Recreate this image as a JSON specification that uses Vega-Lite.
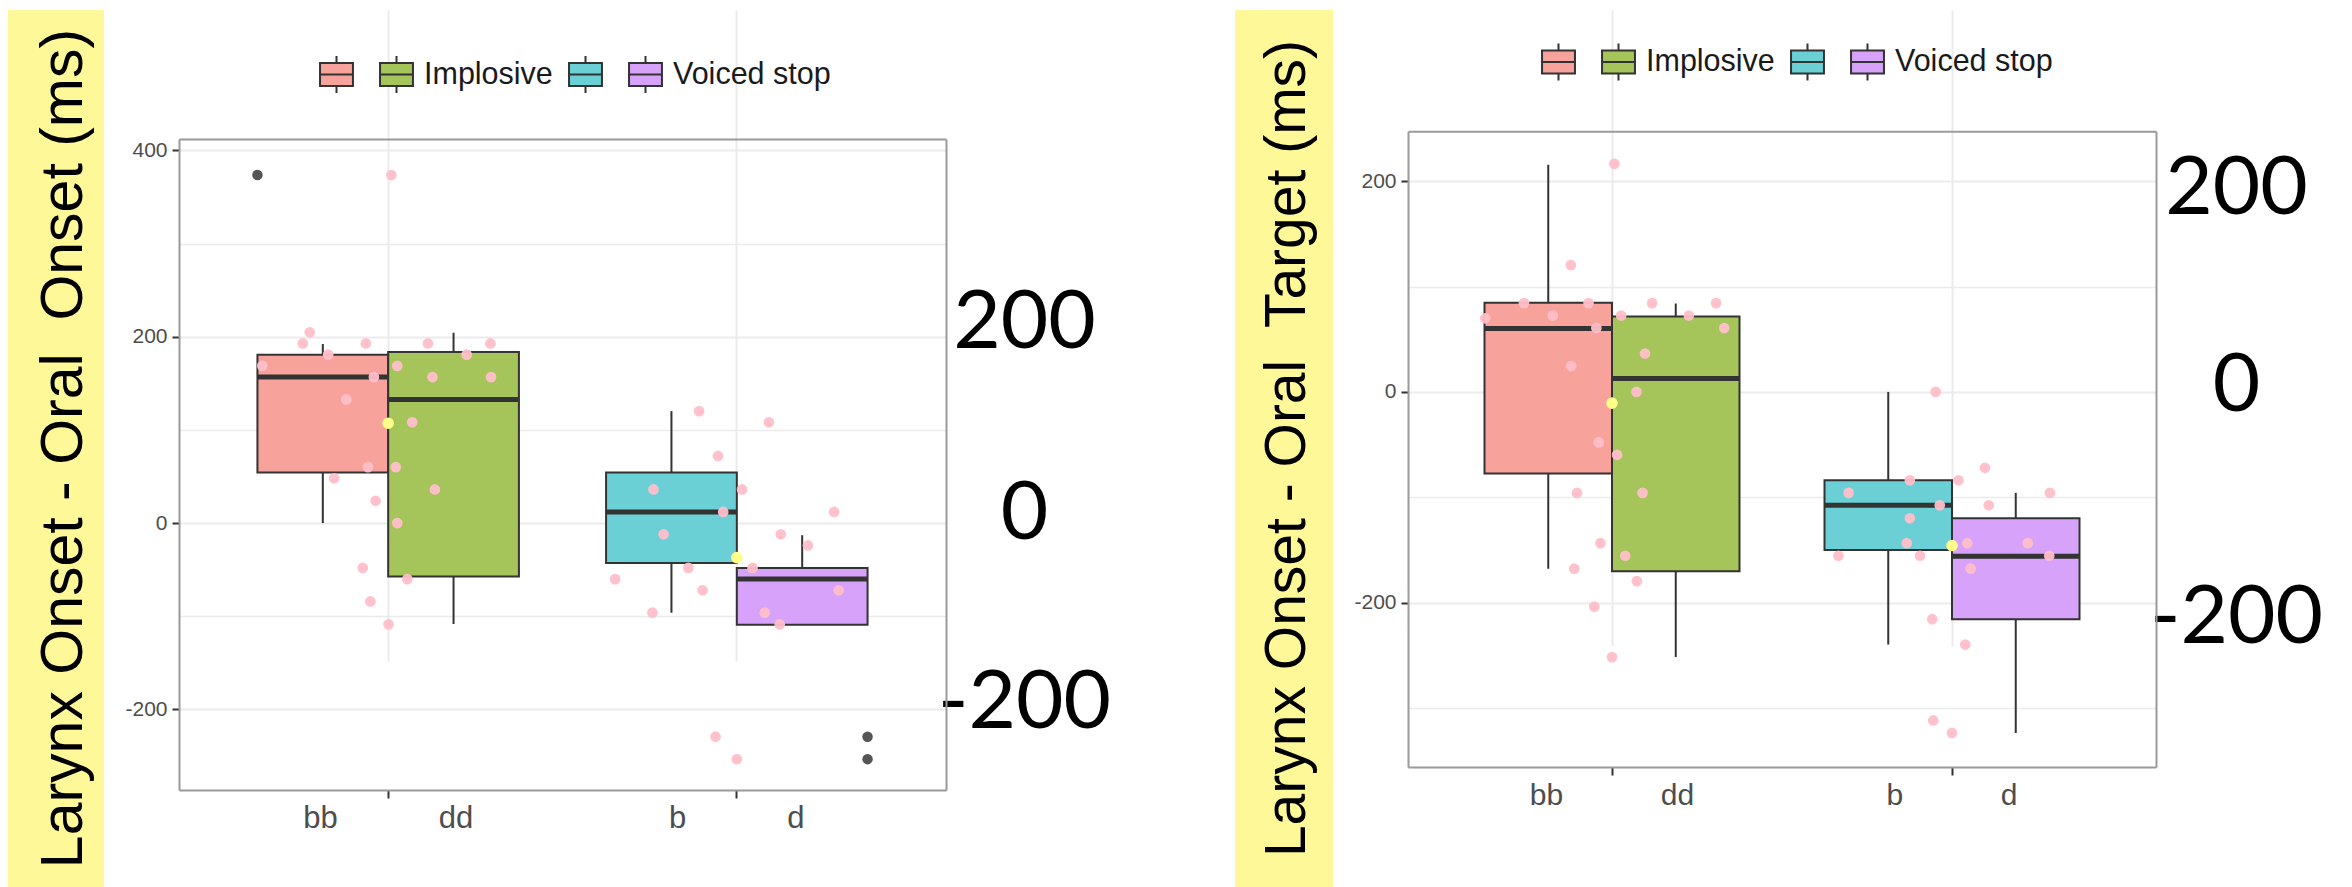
{
  "$schema": "https://vega.github.io/schema/vega-lite/v6.json",
  "padding": {"left": 8, "top": 10, "right": 10, "bottom": 0},
  "bounds": "flush",
  "spacing": 75,
  "config": {"view": {"stroke": null}, "font": "Liberation Sans"},
  "resolve": {"scale": {"color": "independent", "xOffset": "independent"}, "legend": {"color": "independent"}},
  "datasets": {
    "boxesA": [
      {"g": "Implosive", "place": "bilabial", "consonant": "bb", "lower": 0, "q1": 54.3, "median": 156.7, "q3": 180.8, "upper": 192.3},
      {"g": "Implosive", "place": "alveolar", "consonant": "dd", "lower": -108.2, "q1": -57.2, "median": 132.7, "q3": 183.7, "upper": 204.3},
      {"g": "Voiced stop", "place": "bilabial", "consonant": "b", "lower": -96.2, "q1": -42.8, "median": 12, "q3": 54.3, "upper": 120.2},
      {"g": "Voiced stop", "place": "alveolar", "consonant": "d", "lower": -109.1, "q1": -109.1, "median": -60.1, "q3": -48.1, "upper": -13}
    ],
    "outliersA": [
      {"g": "Implosive", "place": "bilabial", "v": 373.6},
      {"g": "Voiced stop", "place": "alveolar", "v": -229.3},
      {"g": "Voiced stop", "place": "alveolar", "v": -253.4}
    ],
    "meansA": [
      {"g": "Implosive", "v": 107.2},
      {"g": "Voiced stop", "v": -37}
    ],
    "pointsA": [
      {"g": "Implosive", "j": -0.225, "v": 204.8}, {"g": "Implosive", "j": -0.245, "v": 192.8}, {"g": "Implosive", "j": -0.064, "v": 192.8},
      {"g": "Implosive", "j": -0.172, "v": 180.8}, {"g": "Implosive", "j": -0.361, "v": 168.8}, {"g": "Implosive", "j": -0.041, "v": 156.7},
      {"g": "Implosive", "j": -0.12, "v": 132.7}, {"g": "Implosive", "j": -0.058, "v": 60.1}, {"g": "Implosive", "j": -0.155, "v": 48.1},
      {"g": "Implosive", "j": -0.036, "v": 24.0}, {"g": "Implosive", "j": -0.073, "v": -48.1}, {"g": "Implosive", "j": -0.051, "v": -84.1},
      {"g": "Implosive", "j": 0.001, "v": -108.7}, {"g": "Implosive", "j": 0.009, "v": 373.6}, {"g": "Implosive", "j": 0.114, "v": 192.8},
      {"g": "Implosive", "j": 0.026, "v": 168.8}, {"g": "Implosive", "j": 0.225, "v": 180.8}, {"g": "Implosive", "j": 0.293, "v": 192.8},
      {"g": "Implosive", "j": 0.127, "v": 156.7}, {"g": "Implosive", "j": 0.295, "v": 156.7}, {"g": "Implosive", "j": 0.069, "v": 108.2},
      {"g": "Implosive", "j": 0.022, "v": 60.1}, {"g": "Implosive", "j": 0.134, "v": 36.1}, {"g": "Implosive", "j": 0.026, "v": 0},
      {"g": "Implosive", "j": 0.055, "v": -60.1},
      {"g": "Voiced stop", "j": -0.108, "v": 120.2}, {"g": "Voiced stop", "j": -0.054, "v": 72.1}, {"g": "Voiced stop", "j": -0.239, "v": 36.1},
      {"g": "Voiced stop", "j": 0.015, "v": 36.1}, {"g": "Voiced stop", "j": -0.039, "v": 12.0}, {"g": "Voiced stop", "j": -0.21, "v": -12.0},
      {"g": "Voiced stop", "j": -0.139, "v": -48.1}, {"g": "Voiced stop", "j": -0.349, "v": -60.1}, {"g": "Voiced stop", "j": -0.098, "v": -72.1},
      {"g": "Voiced stop", "j": -0.242, "v": -96.2}, {"g": "Voiced stop", "j": 0.092, "v": 108.2}, {"g": "Voiced stop", "j": 0.279, "v": 12.0},
      {"g": "Voiced stop", "j": 0.126, "v": -12.0}, {"g": "Voiced stop", "j": 0.204, "v": -24.0}, {"g": "Voiced stop", "j": 0.045, "v": -48.1},
      {"g": "Voiced stop", "j": 0.292, "v": -72.1}, {"g": "Voiced stop", "j": 0.08, "v": -96.2}, {"g": "Voiced stop", "j": 0.123, "v": -108.7},
      {"g": "Voiced stop", "j": -0.061, "v": -229.3}, {"g": "Voiced stop", "j": 0, "v": -253.4}
    ],
    "boxesB": [
      {"g": "Implosive", "place": "bilabial", "consonant": "bb", "lower": -167.8, "q1": -77.5, "median": 60.2, "q3": 84.7, "upper": 215.7},
      {"g": "Implosive", "place": "alveolar", "consonant": "dd", "lower": -251.7, "q1": -170.3, "median": 12.7, "q3": 71.6, "upper": 83.9},
      {"g": "Voiced stop", "place": "bilabial", "consonant": "b", "lower": -239.8, "q1": -150, "median": -107.6, "q3": -83.9, "upper": 0},
      {"g": "Voiced stop", "place": "alveolar", "consonant": "d", "lower": -323.7, "q1": -215.7, "median": -155.9, "q3": -119.9, "upper": -95.8}
    ],
    "meansB": [
      {"g": "Implosive", "v": -10.6},
      {"g": "Voiced stop", "v": -145.8}
    ],
    "pointsB": [
      {"g": "Implosive", "j": -0.373, "v": 69.9}, {"g": "Implosive", "j": -0.259, "v": 84.3}, {"g": "Implosive", "j": -0.174, "v": 72.5},
      {"g": "Implosive", "j": -0.069, "v": 84.3}, {"g": "Implosive", "j": -0.046, "v": 60.6}, {"g": "Implosive", "j": -0.121, "v": 120.3},
      {"g": "Implosive", "j": -0.12, "v": 24.6}, {"g": "Implosive", "j": -0.039, "v": -47.9}, {"g": "Implosive", "j": -0.103, "v": -95.8},
      {"g": "Implosive", "j": -0.034, "v": -143.6}, {"g": "Implosive", "j": -0.111, "v": -167.8}, {"g": "Implosive", "j": -0.052, "v": -203.8},
      {"g": "Implosive", "j": 0, "v": -251.7}, {"g": "Implosive", "j": 0.007, "v": 216.5}, {"g": "Implosive", "j": 0.027, "v": 72.5},
      {"g": "Implosive", "j": 0.118, "v": 84.3}, {"g": "Implosive", "j": 0.226, "v": 72.5}, {"g": "Implosive", "j": 0.306, "v": 84.3},
      {"g": "Implosive", "j": 0.33, "v": 60.6}, {"g": "Implosive", "j": 0.097, "v": 36.4}, {"g": "Implosive", "j": 0.072, "v": 0},
      {"g": "Implosive", "j": 0.015, "v": -59.7}, {"g": "Implosive", "j": 0.09, "v": -95.8}, {"g": "Implosive", "j": 0.039, "v": -155.5},
      {"g": "Implosive", "j": 0.073, "v": -179.6},
      {"g": "Voiced stop", "j": -0.304, "v": -95.8}, {"g": "Voiced stop", "j": -0.334, "v": -155.5}, {"g": "Voiced stop", "j": -0.124, "v": -83.9},
      {"g": "Voiced stop", "j": -0.036, "v": -107.6}, {"g": "Voiced stop", "j": -0.124, "v": -119.9}, {"g": "Voiced stop", "j": -0.133, "v": -143.6},
      {"g": "Voiced stop", "j": -0.094, "v": -155.5}, {"g": "Voiced stop", "j": -0.048, "v": 0}, {"g": "Voiced stop", "j": -0.058, "v": -215.7},
      {"g": "Voiced stop", "j": -0.055, "v": -311.8}, {"g": "Voiced stop", "j": 0, "v": -323.7}, {"g": "Voiced stop", "j": 0.019, "v": -83.9},
      {"g": "Voiced stop", "j": 0.097, "v": -72.0}, {"g": "Voiced stop", "j": 0.108, "v": -107.6}, {"g": "Voiced stop", "j": 0.045, "v": -143.6},
      {"g": "Voiced stop", "j": 0.223, "v": -143.6}, {"g": "Voiced stop", "j": 0.288, "v": -95.8}, {"g": "Voiced stop", "j": 0.286, "v": -155.5},
      {"g": "Voiced stop", "j": 0.055, "v": -167.8}, {"g": "Voiced stop", "j": 0.039, "v": -239.8}
    ]
  },
  "hconcat": [
    {
      "width": 96, "height": 877,
      "view": {"fill": "#FFF899", "stroke": null},
      "data": {"values": [{"t": "Larynx Onset - Oral \u00a0Onset (ms)"}]},
      "mark": {"type": "text", "angle": 270, "font": "Liberation Sans", "fontSize": 59, "baseline": "middle", "align": "center", "dy": 8, "color": "#000000"},
      "encoding": {"text": {"field": "t"}}
    },
    {
      "width": 767, "height": 780,
      "resolve": {"axis": {"x": "independent", "y": "independent"}},
      "layer": [
        {
          "resolve": {"scale": {"xOffset": "independent"}},
          "data": {"name": "boxesA"},
          "encoding": {
            "x": {"field": "g", "type": "nominal",
              "scale": {"domain": ["Implosive", "Voiced stop"], "paddingInner": 0.25, "paddingOuter": 0.225},
              "axis": {"orient": "bottom", "title": null, "labelAngle": 0, "bandPosition": 0.5,
                "labelExpr": "datum.value == 'Implosive' ? 'bb\u00a0\u00a0\u00a0\u00a0\u00a0\u00a0\u00a0\u00a0\u00a0\u00a0\u00a0\u2009dd' : 'b\u00a0\u00a0\u00a0\u00a0\u00a0\u00a0\u00a0\u00a0\u00a0\u00a0\u00a0\u2009d'",
                "labelFont": "Liberation Sans", "labelFontSize": 31, "labelColor": "#4d4d4d", "labelPadding": 5, "labelLimit": 500,
                "tickColor": "#333333", "tickWidth": 2, "tickSize": 8,
                "domainColor": "#9a9a9a", "domainWidth": 2,
                "grid": true, "gridColor": "#ebebeb", "gridWidth": 2}}
          },
          "layer": [
            {
              "mark": {"type": "rule", "stroke": "#333333", "strokeWidth": 2},
              "encoding": {
                "xOffset": {"field": "place", "type": "nominal", "scale": {"domain": ["bilabial", "alveolar"], "paddingInner": 0, "paddingOuter": 0}},
                "y": {"field": "lower", "type": "quantitative",
                  "scale": {"domain": [-286.5, 412.3], "range": [780, 129], "nice": false, "zero": false},
                  "axis": {"orient": "left", "title": null, "values": [-200, -100, 0, 100, 200, 300, 400],
                    "labelExpr": "datum.value % 200 == 0 ? '' + datum.value : ''",
                    "labelFont": "Liberation Sans", "labelFontSize": 21, "labelColor": "#4d4d4d", "labelPadding": 5, "labelOverlap": false,
                    "tickColor": "#333333", "tickWidth": 2, "tickSize": 7,
                    "tickOpacity": {"condition": {"test": "datum.value % 200 != 0", "value": 0}, "value": 1},
                    "domainColor": "#9a9a9a", "domainWidth": 2,
                    "grid": true, "gridColor": "#ebebeb",
                    "gridWidth": {"condition": {"test": "datum.value % 200 != 0", "value": 1.3}, "value": 2}}},
                "y2": {"field": "upper"}
              }
            },
            {
              "mark": {"type": "bar", "stroke": "#333333", "strokeWidth": 2, "opacity": 1},
              "encoding": {
                "xOffset": {"field": "place", "type": "nominal", "scale": {"domain": ["bilabial", "alveolar"], "paddingInner": 0, "paddingOuter": 0}},
                "y": {"field": "q1", "type": "quantitative", "scale": {"domain": [-286.5, 412.3], "range": [780, 129], "nice": false, "zero": false}},
                "y2": {"field": "q3"},
                "color": {"field": "consonant", "type": "nominal",
                  "scale": {"domain": ["bb", "dd", "b", "d"], "range": ["#F7A39C", "#A5C45A", "#6BD0D5", "#D7A2F9"]},
                  "legend": {"orient": "none", "legendX": 138, "legendY": 45, "direction": "horizontal", "title": null, "padding": 0,
                    "labelExpr": "datum.value == 'dd' ? 'Implosive' : datum.value == 'd' ? 'Voiced stop' : ''",
                    "symbolType": "M-0.89,-0.62H0.89V0.62H-0.89Z M-0.89,0H0.89 M0,-0.62V-1 M0,0.62V1",
                    "symbolSize": 1369, "symbolStrokeColor": "#333333", "symbolStrokeWidth": 2, "symbolOpacity": 1,
                    "labelFont": "Liberation Sans", "labelFontSize": 30.5, "labelColor": "#1a1a1a", "labelOffset": 8, "columnPadding": 12, "labelLimit": 400}}
              }
            },
            {
              "mark": {"type": "bar", "stroke": "#333333", "strokeWidth": 5, "fillOpacity": 0},
              "encoding": {
                "xOffset": {"field": "place", "type": "nominal", "scale": {"domain": ["bilabial", "alveolar"], "paddingInner": 0, "paddingOuter": 0}},
                "y": {"field": "median", "type": "quantitative", "scale": {"domain": [-286.5, 412.3], "range": [780, 129], "nice": false, "zero": false}},
                "y2": {"field": "median"}
              }
            },
            {
              "data": {"name": "outliersA"},
              "mark": {"type": "circle", "fill": "#555555", "size": 110, "opacity": 1},
              "encoding": {
                "xOffset": {"field": "place", "type": "nominal", "scale": {"domain": ["bilabial", "alveolar"], "paddingInner": 0, "paddingOuter": 0}},
                "y": {"field": "v", "type": "quantitative", "scale": {"domain": [-286.5, 412.3], "range": [780, 129], "nice": false, "zero": false}}
              }
            },
            {
              "data": {"name": "pointsA"},
              "mark": {"type": "circle", "fill": "#FFBFCA", "size": 115, "opacity": 0.95},
              "encoding": {
                "xOffset": {"field": "j", "type": "quantitative", "scale": {"domain": [-0.375, 0.375], "zero": false, "nice": false}},
                "y": {"field": "v", "type": "quantitative", "scale": {"domain": [-286.5, 412.3], "range": [780, 129], "nice": false, "zero": false}}
              }
            },
            {
              "data": {"name": "meansA"},
              "mark": {"type": "circle", "fill": "#FFFF8A", "size": 135, "opacity": 1},
              "encoding": {
                "y": {"field": "v", "type": "quantitative", "scale": {"domain": [-286.5, 412.3], "range": [780, 129], "nice": false, "zero": false}}
              }
            }
          ]
        },
        {
          "data": {"name": "meansA"},
          "mark": {"type": "circle", "opacity": 0},
          "encoding": {
            "x": {"field": "g", "type": "nominal",
              "scale": {"domain": ["Implosive", "Voiced stop"], "paddingInner": 0.25, "paddingOuter": 0.225},
              "axis": {"orient": "top", "offset": -129, "title": null, "labels": false, "ticks": false, "grid": false, "domainColor": "#9a9a9a", "domainWidth": 2}},
            "y": {"field": "v", "type": "quantitative",
              "scale": {"domain": [-286.5, 412.3], "range": [780, 129], "nice": false, "zero": false},
              "axis": {"orient": "right", "title": null, "values": [-200, 0, 200], "labelExpr": "'' + datum.value",
                "labelFont": "Lato", "labelFontSize": 82, "labelColor": "#000000", "labelAlign": "center", "labelPadding": 78, "labelOverlap": false,
                "ticks": false, "tickSize": 0, "grid": false, "domainColor": "#9a9a9a", "domainWidth": 2,
                "labelOffset": {"condition": [{"test": "datum.value == 200", "value": -14}, {"test": "datum.value == 0", "value": -10}], "value": -7}}}
          }
        }
      ]
    },
    {
      "width": 139, "height": 10,
      "data": {"values": [{}]},
      "mark": {"type": "point", "opacity": 0}
    },
    {
      "width": 98, "height": 877,
      "view": {"fill": "#FFF899", "stroke": null},
      "data": {"values": [{"t": "Larynx Onset - Oral \u00a0Target (ms)"}]},
      "mark": {"type": "text", "angle": 270, "font": "Liberation Sans", "fontSize": 57, "baseline": "middle", "align": "center", "dy": 4, "color": "#000000"},
      "encoding": {"text": {"field": "t"}}
    },
    {
      "width": 748, "height": 757,
      "resolve": {"axis": {"x": "independent", "y": "independent"}},
      "layer": [
        {
          "resolve": {"scale": {"xOffset": "independent"}},
          "data": {"name": "boxesB"},
          "encoding": {
            "x": {"field": "g", "type": "nominal",
              "scale": {"domain": ["Implosive", "Voiced stop"], "paddingInner": 0.25, "paddingOuter": 0.225},
              "axis": {"orient": "bottom", "title": null, "labelAngle": 0, "bandPosition": 0.5,
                "labelExpr": "datum.value == 'Implosive' ? 'bb\u00a0\u00a0\u00a0\u00a0\u00a0\u00a0\u00a0\u00a0\u00a0\u00a0\u00a0\u2009dd' : 'b\u00a0\u00a0\u00a0\u00a0\u00a0\u00a0\u00a0\u00a0\u00a0\u00a0\u00a0\u2009d'",
                "labelFont": "Liberation Sans", "labelFontSize": 30, "labelColor": "#4d4d4d", "labelPadding": 5, "labelLimit": 500,
                "tickColor": "#333333", "tickWidth": 2, "tickSize": 8,
                "domainColor": "#9a9a9a", "domainWidth": 2,
                "grid": true, "gridColor": "#ebebeb", "gridWidth": 2}}
          },
          "layer": [
            {
              "mark": {"type": "rule", "stroke": "#333333", "strokeWidth": 2},
              "encoding": {
                "xOffset": {"field": "place", "type": "nominal", "scale": {"domain": ["bilabial", "alveolar"], "paddingInner": 0, "paddingOuter": 0}},
                "y": {"field": "lower", "type": "quantitative",
                  "scale": {"domain": [-356, 247.4], "range": [757, 121.25], "nice": false, "zero": false},
                  "axis": {"orient": "left", "title": null, "values": [-300, -200, -100, 0, 100, 200],
                    "labelExpr": "datum.value % 200 == 0 ? '' + datum.value : ''",
                    "labelFont": "Liberation Sans", "labelFontSize": 21, "labelColor": "#4d4d4d", "labelPadding": 5, "labelOverlap": false,
                    "tickColor": "#333333", "tickWidth": 2, "tickSize": 7,
                    "tickOpacity": {"condition": {"test": "datum.value % 200 != 0", "value": 0}, "value": 1},
                    "domainColor": "#9a9a9a", "domainWidth": 2,
                    "grid": true, "gridColor": "#ebebeb",
                    "gridWidth": {"condition": {"test": "datum.value % 200 != 0", "value": 1.3}, "value": 2}}},
                "y2": {"field": "upper"}
              }
            },
            {
              "mark": {"type": "bar", "stroke": "#333333", "strokeWidth": 2, "opacity": 1},
              "encoding": {
                "xOffset": {"field": "place", "type": "nominal", "scale": {"domain": ["bilabial", "alveolar"], "paddingInner": 0, "paddingOuter": 0}},
                "y": {"field": "q1", "type": "quantitative", "scale": {"domain": [-356, 247.4], "range": [757, 121.25], "nice": false, "zero": false}},
                "y2": {"field": "q3"},
                "color": {"field": "consonant", "type": "nominal",
                  "scale": {"domain": ["bb", "dd", "b", "d"], "range": ["#F7A39C", "#A5C45A", "#6BD0D5", "#D7A2F9"]},
                  "legend": {"orient": "none", "legendX": 131, "legendY": 32.5, "direction": "horizontal", "title": null, "padding": 0,
                    "labelExpr": "datum.value == 'dd' ? 'Implosive' : datum.value == 'd' ? 'Voiced stop' : ''",
                    "symbolType": "M-0.89,-0.62H0.89V0.62H-0.89Z M-0.89,0H0.89 M0,-0.62V-1 M0,0.62V1",
                    "symbolSize": 1369, "symbolStrokeColor": "#333333", "symbolStrokeWidth": 2, "symbolOpacity": 1,
                    "labelFont": "Liberation Sans", "labelFontSize": 30.5, "labelColor": "#1a1a1a", "labelOffset": 8, "columnPadding": 12, "labelLimit": 400}}
              }
            },
            {
              "mark": {"type": "bar", "stroke": "#333333", "strokeWidth": 5, "fillOpacity": 0},
              "encoding": {
                "xOffset": {"field": "place", "type": "nominal", "scale": {"domain": ["bilabial", "alveolar"], "paddingInner": 0, "paddingOuter": 0}},
                "y": {"field": "median", "type": "quantitative", "scale": {"domain": [-356, 247.4], "range": [757, 121.25], "nice": false, "zero": false}},
                "y2": {"field": "median"}
              }
            },
            {
              "data": {"name": "pointsB"},
              "mark": {"type": "circle", "fill": "#FFBFCA", "size": 115, "opacity": 0.95},
              "encoding": {
                "xOffset": {"field": "j", "type": "quantitative", "scale": {"domain": [-0.375, 0.375], "zero": false, "nice": false}},
                "y": {"field": "v", "type": "quantitative", "scale": {"domain": [-356, 247.4], "range": [757, 121.25], "nice": false, "zero": false}}
              }
            },
            {
              "data": {"name": "meansB"},
              "mark": {"type": "circle", "fill": "#FFFF8A", "size": 135, "opacity": 1},
              "encoding": {
                "y": {"field": "v", "type": "quantitative", "scale": {"domain": [-356, 247.4], "range": [757, 121.25], "nice": false, "zero": false}}
              }
            }
          ]
        },
        {
          "data": {"name": "meansB"},
          "mark": {"type": "circle", "opacity": 0},
          "encoding": {
            "x": {"field": "g", "type": "nominal",
              "scale": {"domain": ["Implosive", "Voiced stop"], "paddingInner": 0.25, "paddingOuter": 0.225},
              "axis": {"orient": "top", "offset": -121.25, "title": null, "labels": false, "ticks": false, "grid": false, "domainColor": "#9a9a9a", "domainWidth": 2}},
            "y": {"field": "v", "type": "quantitative",
              "scale": {"domain": [-356, 247.4], "range": [757, 121.25], "nice": false, "zero": false},
              "axis": {"orient": "right", "title": null, "values": [-200, 0, 200], "labelExpr": "'' + datum.value",
                "labelFont": "Lato", "labelFontSize": 82, "labelColor": "#000000", "labelAlign": "center", "labelPadding": 80, "labelOverlap": false,
                "ticks": false, "tickSize": 0, "grid": false, "domainColor": "#9a9a9a", "domainWidth": 2,
                "labelOffset": {"condition": [{"test": "datum.value == 200", "value": 7}, {"test": "datum.value == 0", "value": -6}], "value": 14.5}}}
          }
        }
      ]
    }
  ]
}
